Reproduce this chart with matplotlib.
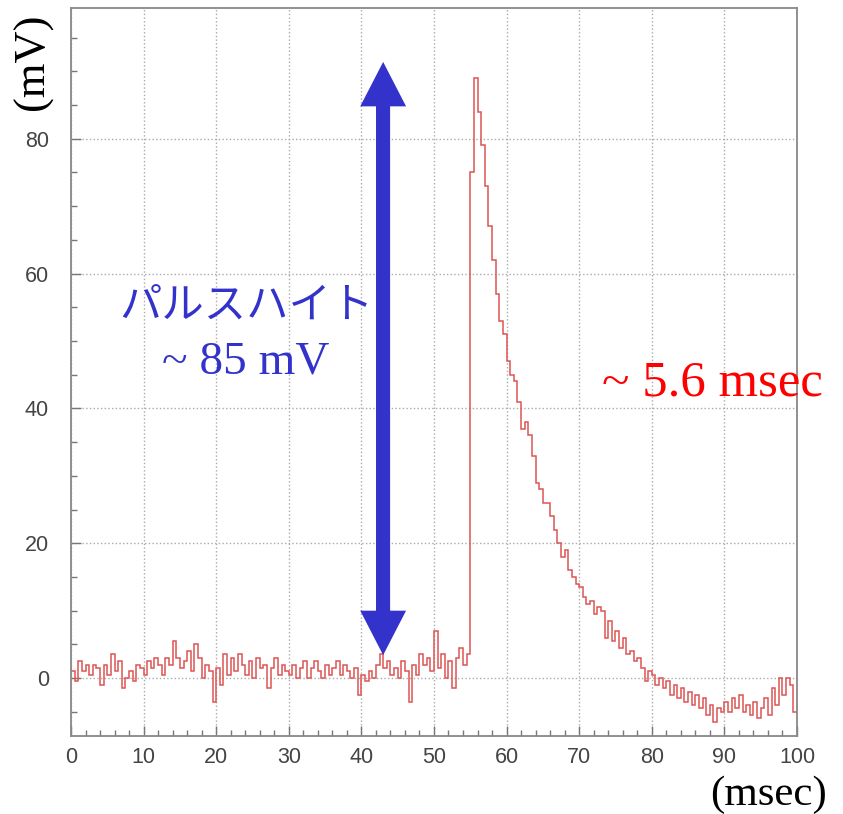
"""
Pulse shape: baseline noise, pulse height ~85 mV, decay ~5.6 msec
"""

import matplotlib
matplotlib.use('Agg')
import matplotlib.pyplot as plt
import numpy as np
from matplotlib.patches import FancyArrowPatch
from matplotlib.ticker import MultipleLocator

# bin width of the trace (msec), values in mV
bin_width = 0.5

# 0 - 55 msec, before the pulse
baseline_mv = [
    1.0, -0.5, 2.5, 1.0, 2.0, 0.5, 2.0, 1.5, -1.0, 2.0,
    0.5, 3.5, 1.0, 2.5, -1.5, 0.0, 1.0, -0.5, 2.0, 1.5,
    0.5, 2.5, 1.5, 3.0, 2.0, 0.5, 3.0, 2.0, 5.5, 3.0,
    1.5, 2.5, 4.0, 1.0, 5.0, 3.0, 0.0, 2.0, 1.0, -3.5,
    1.5, -1.0, 3.5, 0.5, 3.0, 1.0, 3.5, 2.0, 0.5, 2.5,
    0.0, 3.0, 1.5, 2.0, -1.5, 1.5, 3.0, 0.5, 2.0, 1.0,
    0.5, 2.0, 0.0, 1.5, 2.5, 0.0, 1.5, 2.5, 1.0, 0.0,
    2.0, 0.5, 1.5, 2.5, 0.5, 2.0, 1.0, 0.0, 1.5, -2.5,
    0.5, -0.5, 1.0, 0.0, 2.0, 3.5, 1.5, 2.5, 0.5, 1.5,
    0.0, 2.5, 1.0, -3.5, 2.0, 0.5, 3.5, 2.0, 3.0, 1.0,
    7.0, 1.5, 3.5, 0.0, 2.5, -1.5, 3.0, 4.5, 2.0, 3.5,
]

# 55 - 100 msec, pulse and undershoot
pulse_mv = [
    75.0, 89.0, 84.0, 79.0, 73.0, 67.0, 62.0, 57.0, 53.0, 51.0,
    47.0, 45.0, 44.0, 41.0, 37.0, 38.0, 36.0, 33.0, 29.0, 28.0,
    26.0, 26.0, 24.0, 22.0, 20.0, 18.0, 19.0, 16.0, 15.0, 14.0,
    13.5, 12.0, 11.0, 11.5, 9.5, 10.5, 10.0, 6.0, 8.5, 5.5,
    7.0, 4.5, 6.0, 3.5, 4.0, 2.5, 3.0, 1.5, -0.5, 1.0,
    0.5, -1.0, 0.0, -1.5, -0.5, -2.5, -1.0, -3.0, -1.5, -3.5,
    -2.0, -4.0, -2.5, -4.5, -3.0, -5.5, -4.0, -6.5, -4.5, -5.0,
    -3.5, -5.0, -3.0, -4.5, -2.5, -5.0, -4.0, -5.5, -3.5, -6.0,
    -4.5, -3.0, -5.5, -1.5, -4.0, 0.0, -2.5, 0.0, -1.0, -5.0,
]

values = np.array(baseline_mv + pulse_mv)
edges = np.arange(len(values) + 1) * bin_width

# annotation placement
arrow_x = 43.0
arrow_top, arrow_bottom = 91.4, 3.4

blue = '#3333cc'
serif = ['Liberation Serif', 'DejaVu Serif']
jp = ['Noto Sans CJK JP', 'DejaVu Sans']

fig = plt.figure(figsize=(8.43, 8.14), dpi=100)
ax = fig.add_axes([0.0842, 0.0958, 0.8612, 0.8944])

ax.stairs(values, edges, color='#dd5555', linewidth=1.1, baseline=None)

ax.set_xlim(0, 100)
ax.set_ylim(-8.6, 99.4)
ax.xaxis.set_major_locator(MultipleLocator(10))
ax.xaxis.set_minor_locator(MultipleLocator(2))
ax.yaxis.set_major_locator(MultipleLocator(20))
ax.yaxis.set_minor_locator(MultipleLocator(5))
ax.tick_params(which='both', direction='in', colors='#777777',
               labelcolor='#444444', labelsize=15.5)
ax.tick_params(which='major', length=7, width=1)
ax.tick_params(which='minor', length=4, width=1)
ax.tick_params(axis='y', pad=16)
ax.tick_params(axis='x', pad=8)
for lab in ax.get_xticklabels() + ax.get_yticklabels():
    lab.set_family(['Liberation Sans', 'DejaVu Sans'])
for side in ax.spines.values():
    side.set_color('#888888')
    side.set_linewidth(1.3)
ax.grid(True, which='major', linestyle=':', color='#aaaaaa', linewidth=1.0)
ax.set_axisbelow(True)

# double headed arrow for the pulse height: shaft line + two heads
mid = (arrow_top + arrow_bottom) / 2
ax.plot([arrow_x, arrow_x], [arrow_bottom + 6, arrow_top - 6], color=blue,
        linewidth=10, solid_capstyle='butt', zorder=5)
for end in (arrow_top, arrow_bottom):
    ax.add_patch(FancyArrowPatch(
        (arrow_x, mid), (arrow_x, end),
        arrowstyle='simple,head_length=32,head_width=33,tail_width=10',
        mutation_scale=1, color=blue, lw=0, shrinkA=0, shrinkB=0, zorder=6))

ax.text(24.2, 55.3, 'パルスハイト', color=blue, fontsize=30.5, family=jp,
        ha='center', va='center')
ax.text(24.0, 46.9, '~ 85 mV', color=blue, fontsize=34, family=serif,
        ha='center', va='center')
ax.text(88.3, 43.8, '~ 5.6 msec', color='#ff0000', fontsize=36.5, family=serif,
        ha='center', va='center')

fig.text(33 / 843, 1 - 62 / 814, '(mV)', rotation=90, fontsize=32,
         family=serif, ha='center', va='center')
fig.text(768 / 843, 1 - 795 / 814, '(msec)', fontsize=31, family=serif,
         ha='center', va='center')

fig.savefig('out.png', dpi=100)
